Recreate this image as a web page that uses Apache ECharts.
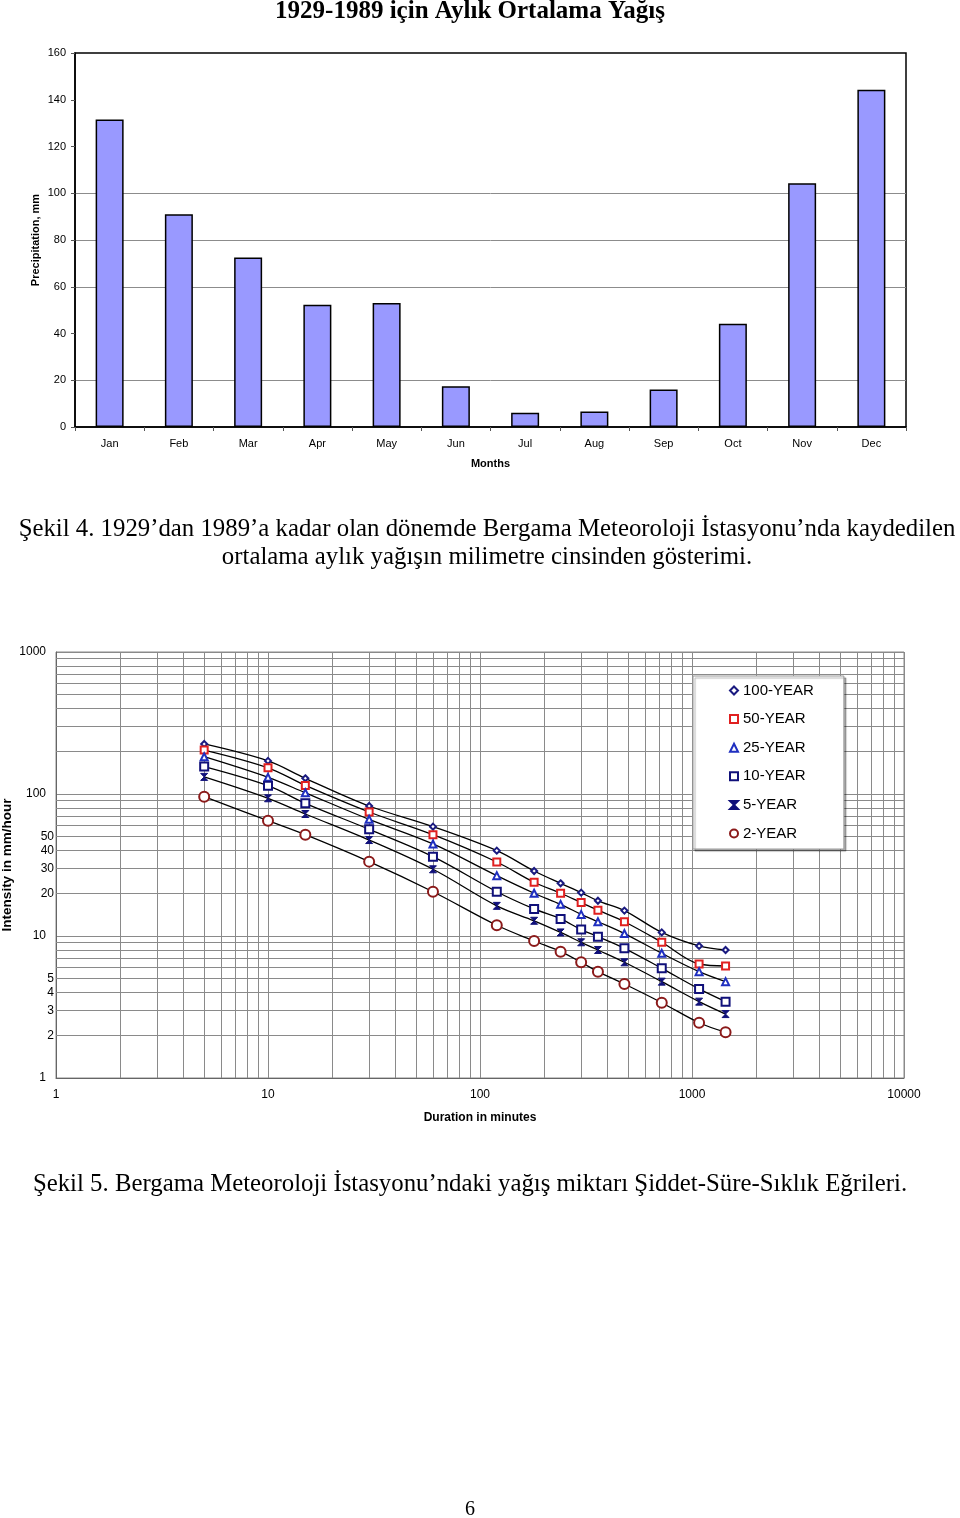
<!DOCTYPE html>
<html><head><meta charset="utf-8">
<script src="https://cdn.jsdelivr.net/npm/echarts@6/dist/echarts.min.js"></script>
<style>html,body{margin:0;padding:0;background:#fff}#c{width:960px;height:1518px}</style>
</head><body><div id="c"></div>
<script>
// ---- Figure 4 data ----
const months = ['Jan','Feb','Mar','Apr','May','Jun','Jul','Aug','Sep','Oct','Nov','Dec'];
const precipitation = [131.5, 91.0, 72.5, 52.3, 53.0, 17.4, 6.1, 6.6, 16.0, 44.2, 104.3, 144.3];

// ---- Figure 5 data ----
const durations = [5, 10, 15, 30, 60, 120, 180, 240, 300, 360, 480, 720, 1080, 1440];
const year100 = [225, 171, 129, 82.3, 58.9, 39.9, 28.7, 23.5, 20.2, 17.7, 15.1, 10.6, 8.51, 7.97];
const year50  = [204, 153, 115, 74.7, 51.7, 33.2, 23.9, 20.0, 17.2, 15.2, 12.6, 9.03, 6.35, 6.15];
const year25  = [183, 131, 102, 66.3, 44.5, 26.6, 20.0, 16.7, 14.2, 12.6, 10.4, 7.55, 5.61, 4.77];
const year10  = [156, 114.5, 86, 56.4, 36.2, 20.5, 15.5, 13.2, 11.1, 9.89, 8.19, 5.92, 4.24, 3.45];
const year5   = [132, 93.3, 72.3, 47.4, 29.5, 16.3, 12.8, 10.6, 9.03, 7.97, 6.53, 4.77, 3.45, 2.82];
const year2   = [95.7, 64.9, 51.7, 33.4, 20.5, 11.9, 9.22, 7.76, 6.53, 5.61, 4.59, 3.39, 2.45, 2.10];
const seriesNames = ['100-YEAR', '50-YEAR', '25-YEAR', '10-YEAR', '5-YEAR', '2-YEAR'];
const yLabelValues = [1, 2, 3, 4, 5, 10, 20, 30, 40, 50, 100, 1000];
const xMinorGrid = [2,3,4,5,6,7,8,9, 20,30,40,50,60,70,80,90, 200,300,400,500,600,700,800,900, 2000,3000,4000,5000,6000,7000,8000,9000];
const yMinorGrid = [2,3,4,5,6,7,8,9, 20,30,40,50,60,70,80,90, 200,300,400,500,600,700,800,900];

const SANS = 'Liberation Sans, Arial, sans-serif';
const SERIF = 'Liberation Serif, Times New Roman, serif';
const chart = echarts.init(document.getElementById('c'), null, {renderer: 'canvas'});

function pairs(arr) { return durations.map((d, i) => [d, arr[i]]); }
function idf(name, arr, symbol, size, color, bw) {
  return {
    name, type: 'line', xAxisIndex: 1, yAxisIndex: 1, z: 3,
    data: pairs(arr), smooth: 0.35, symbol, symbolSize: size, showSymbol: true,
    lineStyle: {color: '#000', width: 1.3},
    itemStyle: {color, borderColor: color, borderWidth: bw},
    emphasis: {disabled: true}, animation: false
  };
}
const hourglass = 'path://M0,0L10,0L0,10L10,10Z';
const symbols = ['emptyDiamond', 'emptyRect', 'emptyTriangle', 'emptyRect', hourglass, 'emptyCircle'];
const colors = ['#1a1a80', '#e02020', '#1f2fc0', '#10107a', '#10107a', '#8b1a1a'];
const sizes = [6, 7, 7, 8, 7, 10];
const bws = [1.5, 1.8, 2, 1.8, 1, 2];
const arrays = [year100, year50, year25, year10, year5, year2];

function txt(x, y, text, font) {
  return {type: 'text', x, y, style: {text, font, fill: '#000', textAlign: 'center', textVerticalAlign: 'middle', align: 'center', verticalAlign: 'middle'}};
}

const option = {
  backgroundColor: '#fff',
  animation: false,
  graphic: [
    txt(470, 12, '1929-1989 için Aylık Ortalama Yağış', 'bold 25px ' + SERIF),
    txt(487, 529, 'Şekil 4. 1929’dan 1989’a kadar olan dönemde Bergama Meteoroloji İstasyonu’nda kaydedilen', '24.8px ' + SERIF),
    txt(487, 557, 'ortalama aylık yağışın milimetre cinsinden gösterimi.', '24.8px ' + SERIF),
    txt(470, 1184, 'Şekil 5. Bergama Meteoroloji İstasyonu’ndaki yağış miktarı Şiddet-Süre-Sıklık Eğrileri.', '24.8px ' + SERIF),
    txt(470, 1510, '6', '20px ' + SERIF)
  ],
  grid: [
    {left: 75, top: 53, width: 831, height: 374, show: true, borderColor: '#000', borderWidth: 1.5, backgroundColor: '#fff', outerBoundsMode: 'none', containLabel: false},
    {left: 56, top: 652, width: 848, height: 426, show: true, borderColor: '#8a8a8a', borderWidth: 1, backgroundColor: '#fff', outerBoundsMode: 'none', containLabel: false}
  ],
  legend: {
    data: seriesNames.map((n, i) => ({name: n, icon: symbols[i]})),
    orient: 'vertical', left: 693, top: 676, z: 10,
    padding: [6, 30, 7, 36], itemGap: 11.6, itemWidth: 8, itemHeight: 8,
    backgroundColor: '#fff', borderColor: '#999', borderWidth: 1,
    shadowColor: 'rgba(0,0,0,0.3)', shadowOffsetX: 2, shadowOffsetY: 2, shadowBlur: 1,
    textStyle: {fontFamily: SANS, fontSize: 15, color: '#000', lineHeight: 17},
    selectedMode: false
  },
  xAxis: [
    {
      type: 'category', gridIndex: 0, data: months, boundaryGap: true,
      axisLine: {lineStyle: {color: '#000', width: 1.5}},
      axisTick: {show: true, length: 4, lineStyle: {color: '#555'}},
      axisLabel: {fontFamily: SANS, fontSize: 11, color: '#000', margin: 11},
      name: 'Months', nameLocation: 'middle', nameGap: 31,
      nameTextStyle: {fontFamily: SANS, fontSize: 11, fontWeight: 'bold', color: '#000'}
    },
    {
      type: 'log', gridIndex: 1, min: 1, max: 10000, logBase: 10,
      axisLine: {show: true, lineStyle: {color: '#666', width: 1}},
      axisTick: {show: false},
      axisLabel: {fontFamily: SANS, fontSize: 12, color: '#000', margin: 11, formatter: v => String(Math.round(v))},
      splitLine: {show: true, lineStyle: {color: '#8a8a8a', width: 1}},
      name: 'Duration in minutes', nameLocation: 'middle', nameGap: 34,
      nameTextStyle: {fontFamily: SANS, fontSize: 12, fontWeight: 'bold', color: '#000'}
    }
  ],
  yAxis: [
    {
      type: 'value', gridIndex: 0, min: 0, max: 160, interval: 20,
      axisLine: {show: true, lineStyle: {color: '#000', width: 1.5}},
      axisTick: {show: true, length: 4, lineStyle: {color: '#555'}},
      axisLabel: {fontFamily: SANS, fontSize: 11, color: '#000', margin: 9},
      splitLine: {show: true, lineStyle: {color: ['rgba(0,0,0,0)', '#8c8c8c', 'rgba(0,0,0,0)', '#8c8c8c', '#8c8c8c', '#8c8c8c', 'rgba(0,0,0,0)', 'rgba(0,0,0,0)', 'rgba(0,0,0,0)'], width: 1}},
      name: 'Precipitation, mm', nameLocation: 'middle', nameGap: 33.5, nameMoveOverlap: false,
      nameTextStyle: {fontFamily: SANS, fontSize: 11, fontWeight: 'bold', color: '#000'}
    },
    {
      type: 'log', gridIndex: 1, min: 1, max: 1000, logBase: 10,
      axisLine: {show: true, lineStyle: {color: '#666', width: 1}},
      axisTick: {show: false},
      axisLabel: {
        customValues: yLabelValues,
        fontFamily: SANS, fontSize: 12, color: '#000', margin: 2,
        formatter: v => { const s = String(Math.round(v)); return /^10*$/.test(s) ? '{d|' + s + '}' : s; },
        rich: {d: {fontFamily: SANS, fontSize: 12, color: '#000', padding: [0, 8, 0, 0]}}
      },
      splitLine: {show: true, lineStyle: {color: '#8a8a8a', width: 1}},
      name: 'Intensity in mm/hour', nameLocation: 'middle', nameGap: 42, nameMoveOverlap: false,
      nameTextStyle: {fontFamily: SANS, fontSize: 13.5, fontWeight: 'bold', color: '#000'}
    }
  ],
  series: [
    {
      name: 'precip', type: 'bar', xAxisIndex: 0, yAxisIndex: 0, data: precipitation,
      barWidth: 28,
      itemStyle: {color: '#9999ff', borderColor: '#000', borderWidth: 1.5},
      emphasis: {disabled: true}
    },
    {
      name: 'grid-minor', type: 'line', xAxisIndex: 1, yAxisIndex: 1, data: [], z: 1,
      markLine: {
        silent: true, z: 1, symbol: ['none', 'none'], label: {show: false},
        lineStyle: {color: '#8a8a8a', width: 1, type: 'solid'},
        emphasis: {disabled: true}, animation: false,
        data: xMinorGrid.map(v => ({xAxis: v})).concat(yMinorGrid.map(v => ({yAxis: v})))
      }
    }
  ].concat(seriesNames.map((n, i) => idf(n, arrays[i], symbols[i], sizes[i], colors[i], bws[i])))
};
chart.setOption(option);
</script></body></html>
